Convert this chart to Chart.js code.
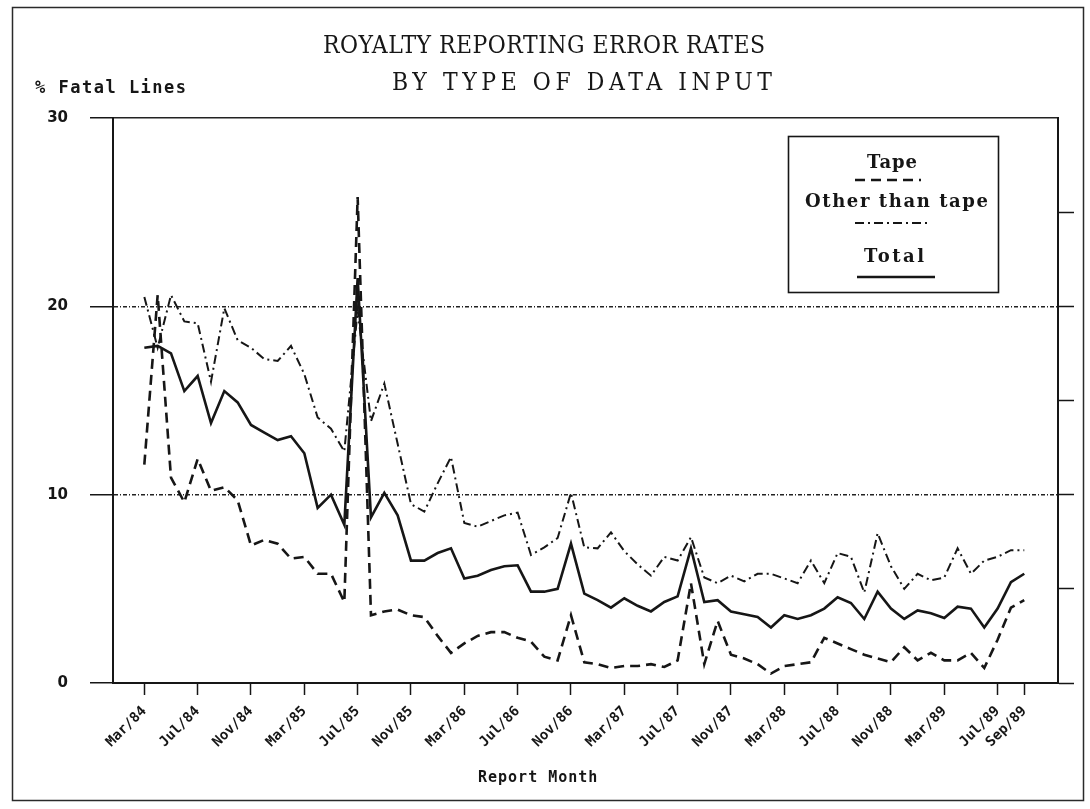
<!DOCTYPE html>
<html>
<head>
<meta charset="utf-8">
<title>Royalty reporting error rates</title>
<script src="https://cdn.jsdelivr.net/npm/chart.js@4.4.1/dist/chart.umd.min.js"></script>
<style>
  html, body { margin: 0; padding: 0; background: #fff; }
  #wrap { width: 1090px; height: 809px; }
</style>
</head>
<body>
<div id="wrap"><canvas id="chart" width="1090" height="809"></canvas></div>
<script>
// month index: 0 = Mar/84 ... 66 = Sep/89
var tickMonths = [0, 4, 8, 12, 16, 20, 24, 28, 32, 36, 40, 44, 48, 52, 56, 60, 64, 66];
var tickLabels = ['Mar/84', 'Jul/84', 'Nov/84', 'Mar/85', 'Jul/85', 'Nov/85', 'Mar/86', 'Jul/86', 'Nov/86',
                  'Mar/87', 'Jul/87', 'Nov/87', 'Mar/88', 'Jul/88', 'Nov/88', 'Mar/89', 'Jul/89', 'Sep/89'];

var titleLines = ['ROYALTY REPORTING ERROR RATES', 'BY TYPE OF DATA INPUT'];
var yTitle = '% Fatal Lines';
var xTitle = 'Report Month';

// % fatal lines per month
var tape = [11.6, 20.6, 10.9, 9.6, 11.9, 10.2, 10.4, 9.7, 7.3, 7.6,
            7.4, 6.6, 6.7, 5.8, 5.8, 4.3, 25.8, 3.6, 3.8, 3.9,
            3.6, 3.5, 2.5, 1.6, 2.1, 2.5, 2.7, 2.7, 2.4, 2.2,
            1.4, 1.2, 3.6, 1.1, 1.0, 0.8, 0.9, 0.9, 1.0, 0.85,
            1.2, 5.3, 1.0, 3.3, 1.5, 1.3, 1.0, 0.5, 0.9, 1.0,
            1.1, 2.4, 2.1, 1.8, 1.5, 1.3, 1.1, 1.9, 1.2, 1.6,
            1.2, 1.2, 1.6, 0.8, 2.3, 4.0, 4.4];
var other = [20.5, 17.8, 20.6, 19.2, 19.1, 16.0, 19.9, 18.2, 17.8, 17.2,
             17.1, 17.9, 16.4, 14.1, 13.5, 12.3, 19.8, 13.9, 15.9, 12.7,
             9.5, 9.1, 10.6, 12.0, 8.5, 8.3, 8.6, 8.9, 9.05, 6.8,
             7.2, 7.7, 10.1, 7.2, 7.15, 8.0, 7.0, 6.3, 5.7, 6.7,
             6.5, 7.75, 5.6, 5.3, 5.7, 5.4, 5.8, 5.8, 5.55, 5.3,
             6.5, 5.3, 6.9, 6.7, 4.8, 7.95, 6.2, 5.0, 5.8, 5.45,
             5.6, 7.15, 5.8, 6.5, 6.7, 7.05, 7.05];
var total = [17.8, 17.9, 17.5, 15.5, 16.3, 13.8, 15.5, 14.9, 13.7, 13.3,
             12.9, 13.1, 12.2, 9.3, 10.0, 8.4, 21.5, 8.8, 10.1, 8.9,
             6.5, 6.5, 6.9, 7.15, 5.55, 5.7, 6.0, 6.2, 6.25, 4.85,
             4.85, 5.0, 7.4, 4.75, 4.4, 4.0, 4.5, 4.1, 3.8, 4.3,
             4.6, 7.15, 4.3, 4.4, 3.8, 3.65, 3.5, 2.95, 3.6, 3.4,
             3.6, 3.95, 4.55, 4.25, 3.4, 4.85, 3.95, 3.4, 3.85, 3.7,
             3.45, 4.05, 3.95, 2.95, 3.95, 5.35, 5.8];

var ink = '#161616';

function points(arr) {
  return arr.map(function (v, i) { return { x: i, y: v }; });
}

// stretch a text to a given width with letter spacing (typewriter look), never squeeze
function fitText(ctx, text, x, y, width, sy) {
  ctx.save();
  ctx.letterSpacing = '0px';
  var w = ctx.measureText(text).width;
  var gap = Math.max((width - w) / Math.max(text.length - 1, 1), 0);
  ctx.letterSpacing = gap + 'px';
  ctx.translate(x, y);
  ctx.scale(1, sy || 1);
  ctx.fillText(text, 0, 0);
  ctx.restore();
}

// frame, titles and the boxed legend
var decor = {
  id: 'decor',
  afterDraw: function (chart) {
    var ctx = chart.ctx;
    ctx.save();
    ctx.strokeStyle = '#2a2a2a';
    ctx.lineWidth = 1.5;
    ctx.strokeRect(12.5, 7.5, 1071, 793);

    ctx.fillStyle = ink;
    ctx.textAlign = 'left';
    ctx.textBaseline = 'alphabetic';
    ctx.font = '22px "DejaVu Serif", "Liberation Serif", serif';
    fitText(ctx, titleLines[0], 323, 53, 442, 1.1);
    fitText(ctx, titleLines[1], 392, 90, 380, 1.1);

    ctx.save();
    ctx.font = 'bold 17px "DejaVu Sans Mono", monospace';
    ctx.letterSpacing = '1.5px';
    ctx.fillText(yTitle, 35, 93);
    ctx.font = 'bold 15px "DejaVu Sans Mono", monospace';
    ctx.letterSpacing = '1px';
    ctx.fillText(xTitle, 478, 782);
    ctx.restore();

    // legend box
    ctx.lineWidth = 1.6;
    ctx.strokeStyle = ink;
    ctx.strokeRect(788.5, 136.5, 210, 156);
    var textY = [168, 207, 262];
    var textX = [867, 805, 864];
    var textW = [50, 183, 60];
    var lineY = [180, 223, 277];
    var lineX = [[855, 921], [855, 930], [857, 935]];
    ctx.font = 'bold 18px "DejaVu Serif", "Liberation Serif", serif';
    ctx.textAlign = 'left';
    ctx.textBaseline = 'alphabetic';
    chart.data.datasets.forEach(function (ds, k) {
      ctx.fillStyle = ink;
      fitText(ctx, ds.label, textX[k], textY[k], textW[k], 1.0);
      ctx.beginPath();
      ctx.setLineDash(ds.borderDash || []);
      ctx.lineWidth = ds.borderWidth;
      ctx.strokeStyle = ds.borderColor;
      ctx.moveTo(lineX[k][0], lineY[k]);
      ctx.lineTo(lineX[k][1], lineY[k]);
      ctx.stroke();
    });
    ctx.restore();
  }
};

var tickFont = { family: '"DejaVu Sans Mono", monospace', weight: 'bold', size: 14 };

new Chart(document.getElementById('chart'), {
  type: 'line',
  data: {
    datasets: [
      { label: 'Tape', data: points(tape), borderColor: ink, borderWidth: 2.6, borderDash: [10, 6] },
      { label: 'Other than tape', data: points(other), borderColor: ink, borderWidth: 2, borderDash: [9, 4, 2, 4] },
      { label: 'Total', data: points(total), borderColor: ink, borderWidth: 2.6 }
    ]
  },
  options: {
    responsive: false,
    animation: false,
    devicePixelRatio: 1,
    layout: { padding: { top: 118, left: 0, right: 0, bottom: 0 } },
    elements: {
      point: { radius: 0 },
      line: { tension: 0, fill: false }
    },
    plugins: {
      legend: { display: false },
      tooltip: { enabled: false },
      title: { display: false }
    },
    scales: {
      x: {
        type: 'linear',
        min: -2.35,
        max: 68.53,
        afterBuildTicks: function (s) {
          s.ticks = tickMonths.map(function (m) { return { value: m }; });
        },
        afterFit: function (s) { s.height = 126; },
        ticks: {
          autoSkip: false,
          minRotation: 45,
          maxRotation: 45,
          padding: 8,
          color: ink,
          font: tickFont,
          callback: function (v) { return tickLabels[tickMonths.indexOf(v)]; }
        },
        grid: { drawOnChartArea: false, tickLength: 12, tickColor: ink, tickWidth: 1.5 },
        border: { color: ink, width: 2 }
      },
      y: {
        position: 'left',
        min: 0,
        max: 30,
        afterFit: function (s) { s.width = 113; },
        ticks: {
          stepSize: 10,
          padding: 22,
          color: ink,
          font: { family: '"DejaVu Sans", sans-serif', weight: 'bold', size: 15 }
        },
        grid: {
          color: function (c) { return c.tick && c.tick.value === 0 ? 'rgba(0,0,0,0)' : '#222'; },
          lineWidth: 1.5,
          tickColor: ink,
          tickLength: 23,
          tickWidth: 1.5
        },
        border: {
          color: ink,
          width: 2,
          dash: function (c) {
            return c.tick && (c.tick.value === 10 || c.tick.value === 20) ? [4, 2, 1, 2] : [];
          }
        }
      },
      y2: {
        position: 'right',
        min: 0,
        max: 30,
        afterFit: function (s) { s.width = 32; },
        ticks: { stepSize: 5, display: false },
        grid: {
          drawOnChartArea: false,
          tickLength: 16,
          tickWidth: 1.5,
          tickColor: function (c) { return c.tick && c.tick.value === 30 ? 'rgba(0,0,0,0)' : ink; }
        },
        border: { color: ink, width: 2 }
      }
    }
  },
  plugins: [decor]
});
</script>
</body>
</html>
